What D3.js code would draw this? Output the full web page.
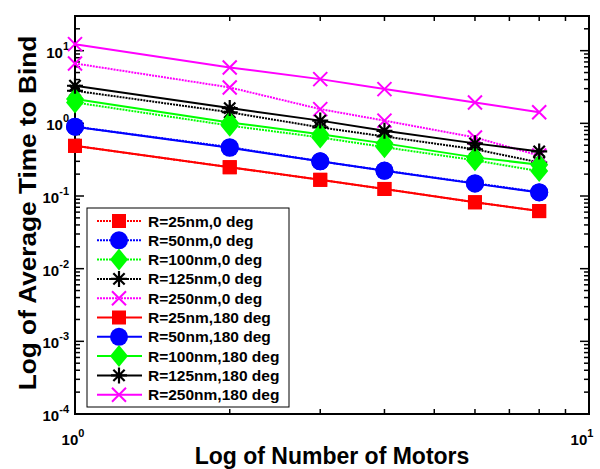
<!DOCTYPE html>
<html>
<head>
<meta charset="utf-8">
<script src="https://cdn.jsdelivr.net/npm/d3@7"></script>
<style>
  body { margin: 0; background: #fff; }
  text { font-family: "Liberation Sans", Arial, sans-serif; font-weight: bold; }
</style>
</head>
<body>
<div id="chart"></div>
<script>
// Number of motors (x)
const motors = [1, 2, 3, 4, 6, 8];

// Series names, colours and markers
const labels = [
    "R=25nm,0 deg", "R=50nm,0 deg", "R=100nm,0 deg", "R=125nm,0 deg", "R=250nm,0 deg",
    "R=25nm,180 deg", "R=50nm,180 deg", "R=100nm,180 deg", "R=125nm,180 deg", "R=250nm,180 deg"
];
const colors = ["#ff0000", "#0000ff", "#00ff00", "#000000", "#ff00ff",
                "#ff0000", "#0000ff", "#00ff00", "#000000", "#ff00ff"];
const markers = ["square", "circle", "diamond", "star", "cross",
                 "square", "circle", "diamond", "star", "cross"];
const dotted = [true, true, true, true, true, false, false, false, false, false];

// Average time to bind, one array per series
const t25_0 = [0.49, 0.249, 0.167, 0.125, 0.082, 0.062];
const t50_0 = [0.90, 0.47, 0.30, 0.224, 0.15, 0.113];
const t100_0 = [1.94, 0.93, 0.64, 0.47, 0.31, 0.22];
const t125_0 = [2.81, 1.42, 0.88, 0.66, 0.44, 0.29];
const t250_0 = [6.67, 3.12, 1.57, 1.09, 0.64, 0.36];
const t25_180 = [0.49, 0.249, 0.167, 0.125, 0.082, 0.062];
const t50_180 = [0.90, 0.46, 0.30, 0.222, 0.148, 0.112];
const t100_180 = [2.16, 1.03, 0.71, 0.53, 0.34, 0.27];
const t125_180 = [3.29, 1.62, 1.09, 0.79, 0.53, 0.41];
const t250_180 = [12.3, 5.88, 4.06, 2.96, 1.94, 1.42];
const values = [t25_0, t50_0, t100_0, t125_0, t250_0,
                t25_180, t50_180, t100_180, t125_180, t250_180];

const width = 600, height = 469;
const margin = { left: 75, right: 11, top: 16, bottom: 55 };

const svg = d3.select("#chart").append("svg")
    .attr("width", width)
    .attr("height", height);

const x = d3.scaleLog().domain([1, 10]).range([margin.left, width - margin.right]);
const y = d3.scaleLog().domain([1e-4, 30]).range([height - margin.bottom, margin.top]);

const x0 = x.range()[0], x1 = x.range()[1];
const y0 = y.range()[0], y1 = y.range()[1];

// ticks (inward, mirrored)
const xMinor = [];
for (let m = 2; m <= 9; m++) xMinor.push(m);
const yMajor = [1e-4, 1e-3, 1e-2, 1e-1, 1, 10];
const yMinor = [];
for (let e = -4; e <= 1; e++) for (let m = 2; m <= 9; m++) {
    const v = m * Math.pow(10, e);
    if (v < 30) yMinor.push(v);
}

const tickG = svg.append("g").attr("stroke", "#000").attr("stroke-width", 1.5);
xMinor.forEach(v => {
    tickG.append("line").attr("x1", x(v)).attr("x2", x(v)).attr("y1", y0).attr("y2", y0 - 5);
    tickG.append("line").attr("x1", x(v)).attr("x2", x(v)).attr("y1", y1).attr("y2", y1 + 5);
});
yMinor.forEach(v => {
    tickG.append("line").attr("x1", x0).attr("x2", x0 + 5).attr("y1", y(v)).attr("y2", y(v));
    tickG.append("line").attr("x1", x1).attr("x2", x1 - 5).attr("y1", y(v)).attr("y2", y(v));
});
yMajor.forEach(v => {
    tickG.append("line").attr("x1", x0).attr("x2", x0 + 9).attr("y1", y(v)).attr("y2", y(v));
    tickG.append("line").attr("x1", x1).attr("x2", x1 - 9).attr("y1", y(v)).attr("y2", y(v));
});

// frame
svg.append("rect")
    .attr("x", x0).attr("y", y1)
    .attr("width", x1 - x0).attr("height", y0 - y1)
    .attr("fill", "none").attr("stroke", "#000").attr("stroke-width", 2);

// tick labels
function powLabel(g, px, py, exp, anchor) {
    const t = g.append("text").attr("x", px).attr("y", py)
        .attr("text-anchor", anchor).attr("font-size", 15).attr("fill", "#000");
    t.append("tspan").text("10");
    t.append("tspan").attr("dy", -8).attr("font-size", 11).text(exp);
}
yMajor.forEach(v => {
    powLabel(svg, x0 - 6, y(v) + 7, String(Math.round(Math.log10(v))), "end");
});
powLabel(svg, x(1) - 2, y0 + 31, "0", "middle");
powLabel(svg, x(10) - 7, y0 + 31, "1", "middle");

// axis titles
svg.append("text")
    .attr("x", (x0 + x1) / 2).attr("y", height - 5)
    .attr("text-anchor", "middle").attr("font-size", 23)
    .text("Log of Number of Motors");
svg.append("text")
    .attr("transform", `translate(36,${(y0 + y1) / 2 - 2}) rotate(-90) scale(1.14,1)`)
    .attr("text-anchor", "middle").attr("font-size", 23)
    .text("Log of Average Time to Bind");

// markers
function drawMarker(g, type, color, cx, cy) {
    if (type === "square") {
        g.append("rect").attr("x", cx - 7).attr("y", cy - 7).attr("width", 14).attr("height", 14)
            .attr("fill", color);
    } else if (type === "circle") {
        g.append("circle").attr("cx", cx).attr("cy", cy).attr("r", 9).attr("fill", color);
    } else if (type === "diamond") {
        g.append("path")
            .attr("d", `M${cx},${cy - 11}L${cx + 9},${cy}L${cx},${cy + 11}L${cx - 9},${cy}Z`)
            .attr("fill", color);
    } else if (type === "star") {
        const r = 8;
        const p = [];
        for (let k = 0; k < 4; k++) {
            const a = k * Math.PI / 4;
            p.push(`M${cx - r * Math.cos(a)},${cy - r * Math.sin(a)}L${cx + r * Math.cos(a)},${cy + r * Math.sin(a)}`);
        }
        g.append("path").attr("d", p.join("")).attr("stroke", color).attr("stroke-width", 2.2);
    } else if (type === "cross") {
        const r = 7;
        g.append("path")
            .attr("d", `M${cx - r},${cy - r}L${cx + r},${cy + r}M${cx - r},${cy + r}L${cx + r},${cy - r}`)
            .attr("stroke", color).attr("stroke-width", 2);
    }
}

const line = d3.line().x(d => x(d[0])).y(d => y(d[1]));
const plot = svg.append("g");
values.forEach((vals, i) => {
    const pts = motors.map((m, j) => [m, vals[j]]);
    const g = plot.append("g");
    g.append("path").datum(pts)
        .attr("d", line)
        .attr("fill", "none")
        .attr("stroke", colors[i])
        .attr("stroke-width", 2)
        .attr("stroke-dasharray", dotted[i] ? "2,1" : null);
    pts.forEach(p => drawMarker(g, markers[i], colors[i], x(p[0]), y(p[1])));
});

// legend
const lg = svg.append("g");
lg.append("rect")
    .attr("x", 87).attr("y", 208).attr("width", 202).attr("height", 199)
    .attr("fill", "#fff").attr("stroke", "#000").attr("stroke-width", 1);
labels.forEach((lab, i) => {
    const ly = 221 + i * 19.3;
    lg.append("line")
        .attr("x1", 97).attr("x2", 142).attr("y1", ly).attr("y2", ly)
        .attr("stroke", colors[i]).attr("stroke-width", 2)
        .attr("stroke-dasharray", dotted[i] ? "2,1" : null);
    drawMarker(lg, markers[i], colors[i], 119, ly);
    lg.append("text")
        .attr("x", 148).attr("y", ly + 5.5)
        .attr("font-size", 15.5)
        .text(lab);
});
</script>
</body>
</html>
